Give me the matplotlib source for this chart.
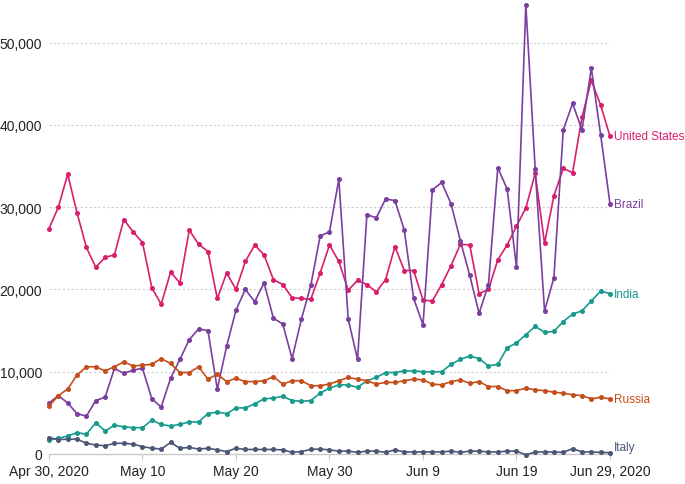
import numpy as np
import pandas as pd
from matplotlib import pyplot as plt

plt.rcParams['font.family'] = ['Liberation Sans', 'DejaVu Sans']

dates = pd.date_range('2020-04-30', '2020-06-29', freq='D')

# daily new cases, thousands
us = [27.4, 30.0, 34.0, 29.3, 25.1, 22.7, 23.9, 24.2, 28.5, 27.0,
      25.7, 20.2, 18.2, 22.1, 20.8, 27.2, 25.5, 24.6, 18.9, 22.0,
      20.0, 23.4, 25.4, 24.2, 21.2, 20.6, 19.0, 18.9, 18.8, 22.0,
      25.4, 23.4, 19.9, 21.1, 20.6, 19.7, 21.2, 25.2, 22.3, 22.3,
      18.7, 18.6, 20.6, 22.9, 25.5, 25.4, 19.5, 20.0, 23.6, 25.4,
      27.7, 29.9, 34.1, 25.6, 31.4, 34.7, 34.2, 40.9, 45.4, 42.4,
      38.6]
brazil = [6.2, 7.1, 6.2, 4.9, 4.6, 6.5, 6.9, 10.4, 9.8, 10.2,
          10.4, 6.7, 5.7, 9.2, 11.5, 13.9, 15.2, 15.0, 7.9, 13.1,
          17.5, 20.0, 18.5, 20.8, 16.5, 15.8, 11.6, 16.4, 20.5, 26.5,
          27.0, 33.4, 16.4, 11.5, 29.1, 28.7, 31.0, 30.8, 27.2, 18.9,
          15.7, 32.1, 33.0, 30.4, 25.9, 21.7, 17.1, 20.6, 34.8, 32.2,
          22.7, 54.6, 34.6, 17.4, 21.4, 39.4, 42.6, 39.4, 46.9, 38.8,
          30.4]
india = [1.7, 1.9, 2.2, 2.6, 2.4, 3.8, 2.8, 3.5, 3.3, 3.2,
         3.2, 4.1, 3.6, 3.4, 3.6, 3.9, 3.9, 4.9, 5.1, 4.9,
         5.6, 5.6, 6.1, 6.7, 6.8, 7.0, 6.5, 6.4, 6.5, 7.4,
         8.0, 8.4, 8.4, 8.1, 8.9, 9.3, 9.9, 9.9, 10.1, 10.1,
         10.0, 10.0, 10.0, 10.9, 11.5, 11.9, 11.6, 10.7, 10.9, 12.9,
         13.5, 14.5, 15.5, 14.8, 14.9, 16.1, 17.0, 17.4, 18.6, 19.8,
         19.5]
russia = [5.8, 7.1, 7.9, 9.6, 10.6, 10.6, 10.1, 10.6, 11.2, 10.7,
          10.8, 10.9, 11.6, 11.0, 9.9, 9.9, 10.6, 9.1, 9.7, 8.8,
          9.2, 8.8, 8.8, 8.9, 9.4, 8.5, 8.9, 8.9, 8.3, 8.3,
          8.5, 8.9, 9.3, 9.1, 8.9, 8.5, 8.7, 8.7, 8.9, 9.1,
          9.0, 8.5, 8.4, 8.8, 9.0, 8.6, 8.8, 8.2, 8.2, 7.7,
          7.7, 8.0, 7.8, 7.7, 7.5, 7.4, 7.2, 7.1, 6.7, 6.9,
          6.7]
italy = [2.0, 1.75, 1.8, 1.8, 1.3, 1.1, 1.0, 1.3, 1.3, 1.2,
         0.9, 0.7, 0.6, 1.4, 0.7, 0.8, 0.6, 0.7, 0.5, 0.3,
         0.7, 0.55, 0.55, 0.55, 0.55, 0.5, 0.2, 0.3, 0.55, 0.6,
         0.5, 0.35, 0.35, 0.2, 0.35, 0.35, 0.2, 0.5, 0.25, 0.25,
         0.25, 0.25, 0.25, 0.35, 0.2, 0.35, 0.35, 0.25, 0.25, 0.35,
         0.35, -0.1, 0.25, 0.25, 0.25, 0.2, 0.65, 0.25, 0.25, 0.2,
         0.15]

names = ['United States', 'Brazil', 'India', 'Russia', 'Italy']
series = [us, brazil, india, russia, italy]
colors = ['#d81f6c', '#7a3f9f', '#189a8c', '#c54f1c', '#4a5876']
label_offsets = [0, 0, 0, 0, 4]  # pixels, Italy nudged off the axis

tick_dates = dates[::10]
tick_labels = ['Apr 30, 2020', 'May 10', 'May 20', 'May 30', 'Jun 9', 'Jun 19', 'Jun 29, 2020']
y_ticks = [0, 10000, 20000, 30000, 40000, 50000]

fig = plt.figure(figsize=(6.85, 4.85), dpi=100)
ax = fig.add_axes([49 / 685, 30 / 485, 561 / 685, 455 / 485])

for name, vals, c, off in zip(names, series, colors, label_offsets):
    vals = np.array(vals) * 1000
    ax.plot(dates, vals, color=c, lw=1.2, marker='o', ms=2.6, clip_on=False, zorder=3)
    ax.annotate(name, xy=(dates[-1], vals[-1]), xytext=(3, off), textcoords='offset points',
                color=c, fontsize=8.5, va='center', ha='left', annotation_clip=False)

ax.set_xlim(dates[0], dates[-1])
ax.set_ylim(0, 55300)
ax.set_xticks(tick_dates)
ax.set_xticklabels(tick_labels)
ax.set_yticks(y_ticks)
ax.set_yticklabels(['{:,}'.format(v) for v in y_ticks])

for v in y_ticks[1:]:
    ax.axhline(v, color='#d0d0d0', lw=0.8, ls=(0, (2, 2)), zorder=1)

for s in ['top', 'right', 'left']:
    ax.spines[s].set_visible(False)
ax.spines['bottom'].set_color('#c8c8c8')
ax.spines['bottom'].set_linewidth(1)
ax.tick_params(axis='x', length=4, color='#c8c8c8', labelsize=10, labelcolor='#222222', pad=3)
ax.tick_params(axis='y', length=0, labelsize=10, labelcolor='#222222', pad=5)

plt.savefig('out.png', dpi=100)
